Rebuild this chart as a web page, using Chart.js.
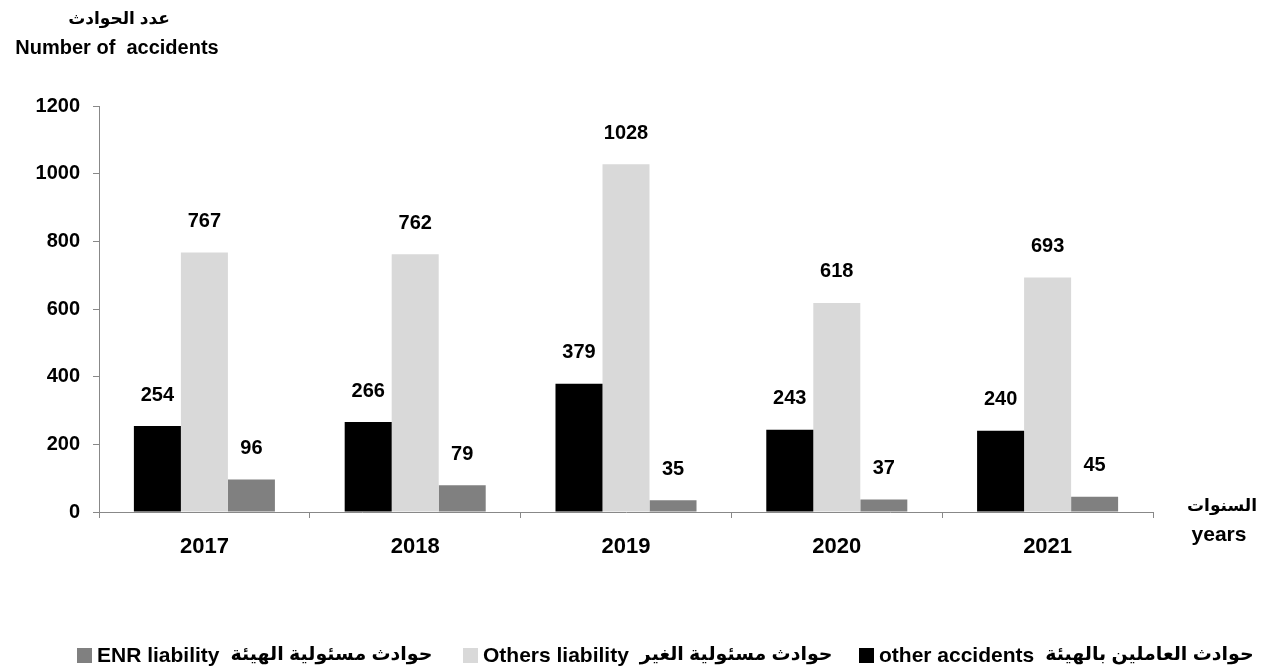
<!DOCTYPE html>
<html>
<head>
<meta charset="utf-8">
<script src="https://cdn.jsdelivr.net/npm/chart.js@4/dist/chart.umd.min.js"></script>
<style>
  html, body { margin: 0; padding: 0; background: #fff; }
  #wrap { width: 1267px; height: 671px; position: relative; }
</style>
</head>
<body>
<div id="wrap"><canvas id="chart" width="1267" height="671"></canvas></div>
<script>
// data
const years = ['2017', '2018', '2019', '2020', '2021'];
const staffAccidents = [254, 266, 379, 243, 240];
const othersLiability = [767, 762, 1028, 618, 693];
const enrLiability = [96, 79, 35, 37, 45];

const seriesNamesEn = ['other accidents', 'Others liability', 'ENR liability'];
const seriesNamesAr = ['حوادث العاملين بالهيئة', 'حوادث مسئولية الغير', 'حوادث مسئولية الهيئة'];
const seriesColors = ['#000000', '#d9d9d9', '#808080'];

const FONT = "'Liberation Sans', 'DejaVu Sans', Arial, sans-serif";

// value labels above each bar
const valueLabels = {
  id: 'valueLabels',
  afterDatasetsDraw(chart) {
    const ctx = chart.ctx;
    ctx.save();
    ctx.font = 'bold 20px ' + FONT;
    ctx.fillStyle = '#000';
    ctx.textAlign = 'center';
    ctx.textBaseline = 'middle';
    chart.data.datasets.forEach((ds, i) => {
      chart.getDatasetMeta(i).data.forEach((bar, j) => {
        ctx.fillText(String(ds.data[j]), bar.x, bar.y - 31);
      });
    });
    ctx.restore();
  }
};

// axis titles + legend drawn on canvas
const extras = {
  id: 'extras',
  afterDraw(chart) {
    const ctx = chart.ctx;
    ctx.save();
    ctx.fillStyle = '#000';
    ctx.textBaseline = 'middle';
    ctx.textAlign = 'center';
    ctx.font = 'bold 17px ' + FONT;
    ctx.fillText('عدد الحوادث', 119, 19);
    ctx.font = 'bold 20px ' + FONT;
    ctx.fillText('Number of  accidents', 117, 48);
    ctx.font = 'bold 17px ' + FONT;
    ctx.fillText('السنوات', 1222, 506);
    ctx.font = 'bold 21px ' + FONT;
    ctx.fillText('years', 1219, 535);

    // legend, right-to-left order of series
    const boxX = [859, 463, 77];
    ctx.textAlign = 'left';
    chart.data.datasets.forEach((ds, i) => {
      const x = boxX[i];
      ctx.fillStyle = ds.backgroundColor;
      ctx.fillRect(x, 648, 15, 15);
      ctx.fillStyle = '#000';
      ctx.font = 'bold 21px ' + FONT;
      ctx.fillText(seriesNamesEn[i], x + 20, 656);
      const w = ctx.measureText(seriesNamesEn[i]).width;
      ctx.font = 'bold 19px ' + FONT;
      ctx.fillText(seriesNamesAr[i], x + 20 + w + 11, 655);
    });
    ctx.restore();
  }
};

new Chart(document.getElementById('chart'), {
  type: 'bar',
  data: {
    labels: years,
    datasets: [
      { label: seriesNamesEn[0], data: staffAccidents, backgroundColor: seriesColors[0] },
      { label: seriesNamesEn[1], data: othersLiability, backgroundColor: seriesColors[1] },
      { label: seriesNamesEn[2], data: enrLiability, backgroundColor: seriesColors[2] }
    ]
  },
  options: {
    responsive: false,
    animation: false,
    layout: { padding: { top: 106, right: 114, left: 0, bottom: 0 } },
    datasets: {
      bar: { barPercentage: 1, categoryPercentage: 0.669 }
    },
    plugins: {
      legend: { display: false },
      tooltip: { enabled: false }
    },
    scales: {
      x: {
        afterFit(scale) { scale.height = 159; },
        grid: { drawOnChartArea: false, tickLength: 6, color: '#888' },
        border: { color: '#888', width: 1 },
        ticks: { color: '#000', padding: 16, font: { family: FONT, size: 22, weight: 'bold' } }
      },
      y: {
        min: 0,
        max: 1200,
        afterFit(scale) { scale.width = 99; },
        grid: { drawOnChartArea: false, tickLength: 6, color: '#888' },
        border: { color: '#888', width: 1 },
        ticks: {
          stepSize: 200,
          color: '#000',
          padding: 13,
          font: { family: FONT, size: 20, weight: 'bold' },
          callback: (v) => String(v)
        }
      }
    }
  },
  plugins: [valueLabels, extras]
});
</script>
</body>
</html>
